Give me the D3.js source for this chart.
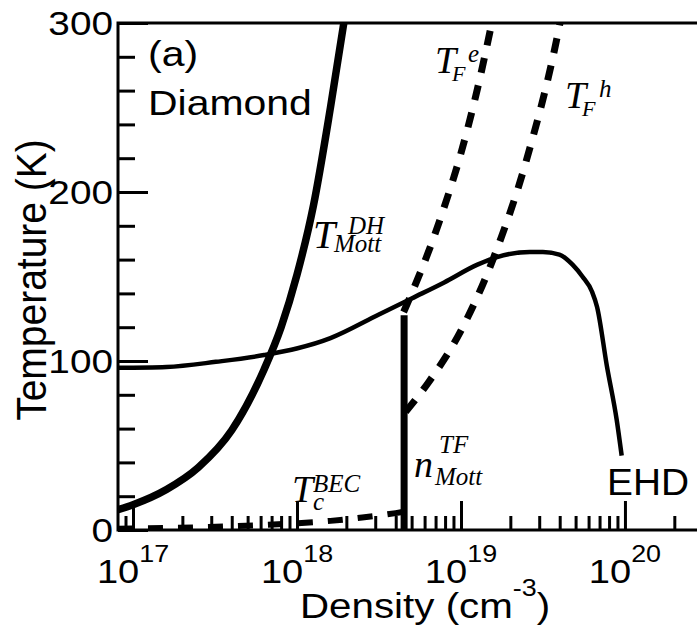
<!DOCTYPE html>
<html><head><meta charset="utf-8">
<script src="https://cdn.jsdelivr.net/npm/d3@7"></script>
<style>body{margin:0;background:#fff} svg{display:block}</style>
</head><body>
<svg id="c" width="697" height="629"></svg>
<script>
// ---- data (density in cm^-3, temperature in K) ----
const dhDensity  = [8.1e16, 1.0e17, 1.6e17, 2.5e17, 4.0e17, 6.3e17, 8.0e17, 1.0e18, 1.26e18, 1.6e18, 1.93e18];
const dhTemp     = [12, 15, 24, 37, 59, 95, 120, 151, 192, 250, 300];

const ehdDensity = [8.1e16, 1.6e17, 3.2e17, 6.3e17, 1.6e18, 3.16e18, 5.0e18, 7.9e18, 1.26e19, 1.66e19, 2.63e19, 3.16e19, 3.98e19, 4.79e19, 5.5e19, 6.3e19, 6.76e19, 7.76e19, 8.91e19, 9.55e19];
const ehdTemp    = [96, 96.5, 99.5, 103.5, 113.5, 127.5, 137, 146.5, 157, 161.5, 164.5, 164.5, 163, 157, 150, 141, 132, 97, 65, 44];

const tfeDensity = [4.47e18, 5.0e18, 6.3e18, 7.9e18, 1.0e19, 1.26e19, 1.58e19];
const tfeTemp    = [129, 140, 164, 191, 223, 261, 305];

const tfhDensity = [4.6e18, 6.3e18, 1.0e19, 1.58e19, 2.51e19, 3.98e19, 4.3e19];
const tfhTemp    = [70, 87, 118, 161, 219, 298, 315];

const becDensity = [8.1e16, 1.6e17, 3.2e17, 6.3e17, 1.0e18, 1.6e18, 2.5e18, 4.0e18, 4.5e18];
const becTemp    = [0.8, 1.2, 1.9, 3.0, 4.0, 5.4, 7.4, 10, 10.8];

const mottDensity = [4.5e18, 4.5e18];
const mottTemp    = [0, 127];

const xMajorTicks = [1e17, 1e18, 1e19, 1e20];
const xMajorExp   = ["17", "18", "19", "20"];
const yMajorTicks = [0, 100, 200, 300];
const yMinorTicks = [20, 40, 60, 80, 120, 140, 160, 180, 220, 240, 260, 280];

// ---- scales ----
const svg = d3.select("#c");
const x = d3.scaleLog().domain([8.1e16, 2.75e20]).range([118, 697]);
const y = d3.scaleLinear().domain([0, 300]).range([530, 23]);
const X0 = x.range()[0], X1 = x.range()[1], Y0 = y.range()[0], Y1 = y.range()[1];

const xMinorTicks = [];
for (let e = 16; e <= 20; e++) for (let k = 2; k <= 9; k++) {
  const v = k * Math.pow(10, e);
  if (v > x.domain()[0] && v < x.domain()[1]) xMinorTicks.push(v);
}

svg.append("clipPath").attr("id", "clip").append("rect")
  .attr("x", X0).attr("y", Y1).attr("width", X1 - X0).attr("height", Y0 - Y1);

// ---- axes ----
function styleTicks(g) {
  g.select(".domain").remove();
  g.selectAll("line").attr("stroke", "#000").attr("stroke-width", 3);
}
svg.append("g").attr("transform", `translate(0,${Y0})`)
  .call(d3.axisBottom(x).tickValues(xMinorTicks).tickSize(-14).tickFormat(""))
  .call(styleTicks);
svg.append("g").attr("transform", `translate(0,${Y0})`)
  .call(d3.axisBottom(x).tickValues(xMajorTicks).tickSize(-29).tickFormat(""))
  .call(styleTicks);
svg.append("g").attr("transform", `translate(${X0},0)`)
  .call(d3.axisLeft(y).tickValues(yMinorTicks).tickSize(-17).tickFormat(""))
  .call(styleTicks);
svg.append("g").attr("transform", `translate(${X0},0)`)
  .call(d3.axisLeft(y).tickValues(yMajorTicks).tickSize(-30).tickFormat(""))
  .call(styleTicks);

// frame lines
svg.append("path").attr("d", `M${X0},${Y0}H${X1}M${X0},${Y0+1.5}V${Y1}M${X0-1.5},${Y1}H${X1}`)
  .attr("stroke", "#000").attr("stroke-width", 3).attr("fill", "none");

// tick labels
const sans = "'Liberation Sans', Arial, Helvetica, sans-serif";
const serif = "'Liberation Serif', 'Times New Roman', serif";
yMajorTicks.forEach(t => {
  svg.append("text").attr("transform", `translate(113,${y(t)}) scale(1.14,1)`)
    .attr("text-anchor", "end").attr("dy", "0.36em")
    .attr("font-family", sans).attr("font-size", 34).text(t);
});
xMajorTicks.forEach((t, i) => {
  const tx = svg.append("text").attr("transform", `translate(${x(t)},583) scale(1.12,1)`)
    .attr("text-anchor", "middle").attr("font-family", sans).attr("font-size", 34);
  tx.append("tspan").text("10");
  tx.append("tspan").attr("dy", -21).attr("font-size", 24).text(xMajorExp[i]);
});

// axis titles
const xt = svg.append("text").attr("transform", "translate(300,618) scale(1.12,1)")
  .attr("font-family", sans).attr("font-size", 36);
xt.append("tspan").text("Density (cm");
xt.append("tspan").attr("dy", -22).attr("font-size", 24).text("-3");
xt.append("tspan").attr("dy", 22).text(")");

svg.append("text").attr("transform", "translate(46,280) rotate(-90) scale(1,1.1)")
  .attr("text-anchor", "middle").attr("font-family", sans).attr("font-size", 39)
  .text("Temperature (K)");

// ---- curves ----
const zip = (a, b) => a.map((v, i) => [v, b[i]]);
const line = d3.line().x(d => x(d[0])).y(d => y(d[1])).curve(d3.curveMonotoneX);
const plot = svg.append("g").attr("clip-path", "url(#clip)");

plot.append("path").datum(zip(ehdDensity, ehdTemp)).attr("d", line)
  .attr("fill", "none").attr("stroke", "#000").attr("stroke-width", 4.5);
plot.append("path").datum(zip(dhDensity, dhTemp)).attr("d", line)
  .attr("fill", "none").attr("stroke", "#000").attr("stroke-width", 7.5);
plot.append("path").datum(zip(tfeDensity, tfeTemp)).attr("d", line)
  .attr("fill", "none").attr("stroke", "#000").attr("stroke-width", 7).attr("stroke-dasharray", "15,13");
plot.append("path").datum(zip(tfhDensity, tfhTemp)).attr("d", line)
  .attr("fill", "none").attr("stroke", "#000").attr("stroke-width", 7).attr("stroke-dasharray", "15,13");
plot.append("path").datum(zip(becDensity, becTemp)).attr("d", line)
  .attr("fill", "none").attr("stroke", "#000").attr("stroke-width", 6).attr("stroke-dasharray", "15,15");
plot.append("path").datum(zip(mottDensity, mottTemp)).attr("d", d3.line().x(d => x(d[0])).y(d => y(d[1])))
  .attr("fill", "none").attr("stroke", "#000").attr("stroke-width", 7);

// ---- annotations ----
function plain(tx, ty, txt, size, sx) {
  return svg.append("text").attr("transform", `translate(${tx},${ty}) scale(${sx},1)`)
    .attr("font-family", sans).attr("font-size", size).text(txt);
}
plain(148, 66, "(a)", 35, 1.17);
plain(148, 115, "Diamond", 35, 1.17);
plain(607, 495, "EHD", 37, 1.05);

// symbol with subscript/superscript as one text element
function sym(parts) {
  const t = svg.append("text").attr("font-family", serif).attr("font-style", "italic");
  parts.forEach(p => t.append("tspan").attr("x", p[0]).attr("y", p[1])
    .attr("font-size", p[3]).text(p[2]));
}
sym([[313, 248, "T", 40], [334, 252, "Mott", 25], [348, 234, "DH", 25]]);
sym([[435, 73, "T", 38], [452, 81, "F", 22], [468, 62, "e", 25]]);
sym([[565, 108, "T", 38], [582, 116, "F", 22], [599, 97, "h", 25]]);
sym([[414, 477, "n", 38], [435, 485, "Mott", 25], [439, 453, "TF", 25]]);
sym([[292, 502, "T", 38], [313, 510, "c", 25], [313, 492, "BEC", 25]]);
</script>
</body></html>
